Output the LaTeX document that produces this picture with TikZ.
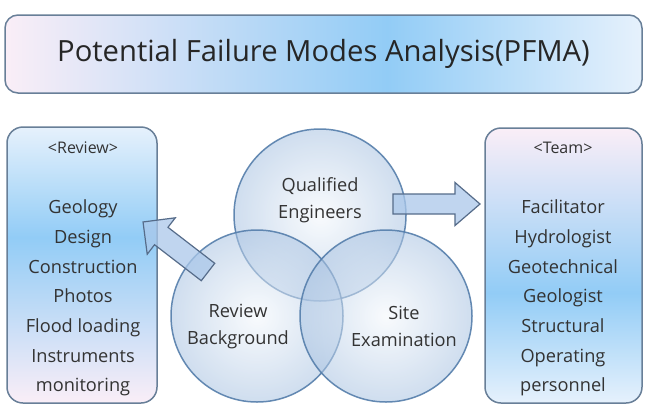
\documentclass[tikz,border=0pt]{standalone}
\usepackage{fontspec}
\setmainfont{Open Sans}
\definecolor{pinkw}{HTML}{FAEEF7}
\definecolor{bluew}{HTML}{E6F1FC}
\definecolor{midblue}{HTML}{92CCF6}
\definecolor{boxedge}{HTML}{687F98}
\definecolor{txt}{HTML}{333333}
\definecolor{ringedge}{HTML}{557EAB}
\definecolor{ringin}{HTML}{F4F8FC}
\definecolor{ringout}{HTML}{A9C3E2}
\definecolor{arrowfill}{HTML}{ABC8EA}
\definecolor{arrowedge}{HTML}{566C8A}
\pgfdeclarehorizontalshading{titleshade}{100bp}{color(0bp)=(pinkw); color(25bp)=(pinkw); color(55bp)=(midblue); color(75bp)=(bluew); color(100bp)=(bluew)}
\pgfdeclareverticalshading{lboxshade}{100bp}{color(0bp)=(pinkw); color(25bp)=(pinkw); color(55bp)=(midblue); color(75bp)=(bluew); color(100bp)=(bluew)}
\pgfdeclareverticalshading{rboxshade}{100bp}{color(0bp)=(bluew); color(25bp)=(bluew); color(45bp)=(midblue); color(75bp)=(pinkw); color(100bp)=(pinkw)}
\begin{document}
\begin{tikzpicture}[x=1pt,y=-1pt,
  panel/.style={draw=boxedge, line width=1.5pt, rounded corners=16pt, inner sep=0pt},
  titlebox/.style={panel, rounded corners=13pt, shading=titleshade, minimum width=637pt, minimum height=78pt, text=black!85, font=\fontsize{29.2}{32}\selectfont},
  lbox/.style={panel, shading=lboxshade, minimum width=150pt, minimum height=276pt},
  rbox/.style={panel, shading=rboxshade, minimum width=157pt, minimum height=275pt},
  head/.style={text=txt, font=\fontsize{16}{18}\selectfont},
  items/.style={text=txt, align=center, font=\fontsize{18.2}{29.7}\selectfont},
  venn/.style={circle, minimum size=172pt, inner sep=0pt, draw=ringedge, line width=1.5pt, inner color=ringin, outer color=ringout, fill opacity=0.55, draw opacity=0.9},
  vlabel/.style={text=txt, align=center, font=\fontsize{18.2}{26.5}\selectfont},
  blockarrow/.style={fill=arrowfill, fill opacity=0.75, draw=arrowedge, line width=1.2pt, line join=miter}
]
\useasboundingbox (0,0) rectangle (652,408);
\fill[white] (0,0) rectangle (652,408);
% title
\node[titlebox] (title) at (323.5,54) {Potential Failure Modes Analysis(PFMA)};
% side panels
\node[lbox] (review) at (82,265) {};
\node[rbox] (team) at (563.5,265.5) {};
\node[head] (reviewhead) at (83,148) {<Review>};
\node[head] (teamhead) at (563,148) {<Team>};
\node[items] (reviewlist) at (83,298) {Geology\\Design\\Construction\\Photos\\Flood loading\\Instruments\\monitoring};
\node[items] (teamlist) at (563,298) {Facilitator\\Hydrologist\\Geotechnical\\Geologist\\Structural\\Operating\\personnel};
% venn circles
\node[venn] (qe) at (320,215) {};
\node[venn] (rb) at (257,316) {};
\node[venn] (se) at (386,316) {};
\node[vlabel] (qetext) at (320,200) {Qualified\\Engineers};
\node[vlabel] (rbtext) at (238,326.5) {Review\\Background};
\node[vlabel] (setext) at (404,326.5) {Site\\Examination};
% block arrows
\coordinate (rtail) at (393,204);
\coordinate (ltail) at (208,272);
\begin{scope}[shift={(rtail)}]
  \draw[blockarrow] (0,-10) -- (62,-10) -- (62,-21.5) -- (87,0) -- (62,21.5) -- (62,10) -- (0,10) -- cycle;
\end{scope}
\begin{scope}[shift={(ltail)}, rotate=142.4]
  \draw[blockarrow] (0,-11) -- (59,-11) -- (59,-23) -- (82,0) -- (59,23) -- (59,11) -- (0,11) -- cycle;
\end{scope}
\end{tikzpicture}
\end{document}
